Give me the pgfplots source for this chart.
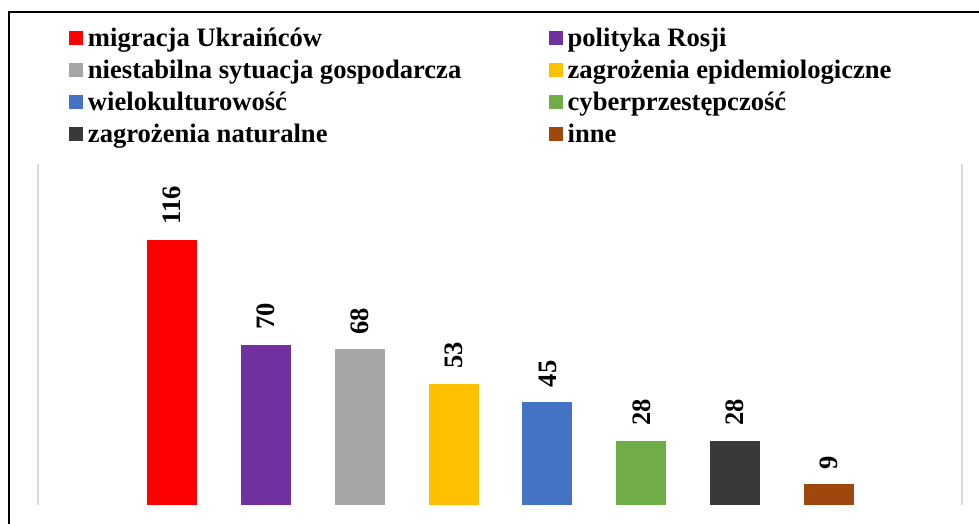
\documentclass[border=0pt]{standalone}
\usepackage{pgfplots}
\pgfplotsset{compat=1.18}
\usepackage{fontspec}
\setmainfont{Liberation Serif}
\definecolor{cRed}{HTML}{FF0000}
\definecolor{cPurple}{HTML}{7030A0}
\definecolor{cGray}{HTML}{A5A5A5}
\definecolor{cYellow}{HTML}{FFC000}
\definecolor{cBlue}{HTML}{4472C4}
\definecolor{cGreen}{HTML}{70AD47}
\definecolor{cDark}{HTML}{3B3838}
\definecolor{cBrown}{HTML}{9E480E}
\definecolor{cAxis}{HTML}{D9D9D9}
\newcommand{\bigfont}{\fontsize{26.6}{30}\selectfont\bfseries}
\begin{document}
\begin{tikzpicture}[x=1pt,y=1pt]
\useasboundingbox (0,0) rectangle (979,524);
\draw[line width=2pt] (8.7,-20) rectangle (1000,512);
\begin{axis}[
  at={(38pt,19pt)}, anchor=south west,
  scale only axis, width=924pt, height=341pt,
  xmin=-1.426, xmax=8.415, ymin=0, ymax=149,
  axis line style={draw=none},
  xtick=\empty, ytick=\empty,
  ybar, bar width=50pt,
  /pgf/number format/assume math mode=true,
  nodes near coords,
  nodes near coords style={font=\bigfont, rotate=90, anchor=west, inner sep=0pt, outer xsep=15pt, outer ysep=0pt, text=black},
  legend columns=2,
  legend cell align=left,
  legend image code/.code={\fill[#1,draw=none] (0pt,-5pt) rectangle (14pt,9pt);},
  legend style={at={(axis description cs:0.0335,1.4018)}, anchor=north west,
    draw=none, fill=none, inner sep=0pt, outer sep=0pt,
    column sep=5pt, row sep=4.8pt, font=\bigfont,
    nodes={inner sep=0pt, text height=20pt, text depth=7pt}},
  clip=false,
]
\addplot[fill=cRed, draw=none, bar shift=0pt] coordinates {(0,116)};
\addlegendentry{\makebox[455.7pt][l]{migracja Ukraińców}}
\addplot[fill=cPurple, draw=none, bar shift=0pt] coordinates {(1,70)};
\addlegendentry{polityka Rosji}
\addplot[fill=cGray, draw=none, bar shift=0pt] coordinates {(2,68)};
\addlegendentry{\makebox[455.7pt][l]{niestabilna sytuacja gospodarcza}}
\addplot[fill=cYellow, draw=none, bar shift=0pt] coordinates {(3,53)};
\addlegendentry{zagrożenia epidemiologiczne}
\addplot[fill=cBlue, draw=none, bar shift=0pt] coordinates {(4,45)};
\addlegendentry{\makebox[455.7pt][l]{wielokulturowość}}
\addplot[fill=cGreen, draw=none, bar shift=0pt] coordinates {(5,28)};
\addlegendentry{cyberprzestępczość}
\addplot[fill=cDark, draw=none, bar shift=0pt] coordinates {(6,28)};
\addlegendentry{\makebox[455.7pt][l]{zagrożenia naturalne}}
\addplot[fill=cBrown, draw=none, bar shift=0pt] coordinates {(7,9)};
\addlegendentry{inne}
\draw[cAxis, line width=1.5pt] (rel axis cs:0,0) -- (rel axis cs:0,1);
\draw[cAxis, line width=1.5pt] (rel axis cs:1,0) -- (rel axis cs:1,1);
\end{axis}
\end{tikzpicture}
\end{document}
